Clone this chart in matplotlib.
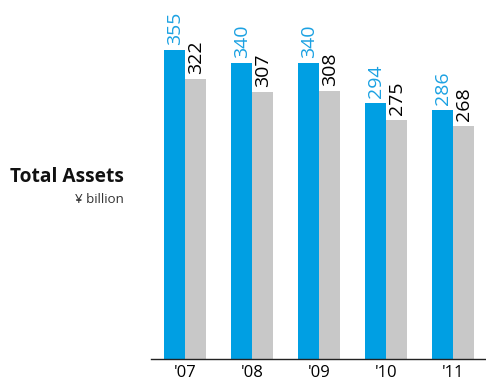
import numpy as np
import matplotlib.pyplot as plt

years = ["'07", "'08", "'09", "'10", "'11"]
assets_blue = [355, 340, 340, 294, 286]
assets_gray = [322, 307, 308, 275, 268]

BLUE = '#009FE3'
GRAY = '#C8C8C8'

plt.rcParams['font.family'] = ['Open Sans', 'DejaVu Sans']

fig = plt.figure(figsize=(4.86, 3.8), dpi=100)
ax = fig.add_axes([0.311, 0.0553, 0.689, 0.916])

x = np.arange(len(years))
w = 0.313
bars_b = ax.bar(x - w / 2, assets_blue, width=w, color=BLUE, linewidth=0)
bars_g = ax.bar(x + w / 2, assets_gray, width=w, color=GRAY, linewidth=0)

for bar, val in zip(bars_b, assets_blue):
    ax.annotate(str(val), (bar.get_x() + bar.get_width() / 2, val),
                xytext=(0, 3.5), textcoords='offset points',
                ha='center', va='bottom', rotation=90,
                fontsize=14, color='#1BA1E2')
for bar, val in zip(bars_g, assets_gray):
    ax.annotate(str(val), (bar.get_x() + bar.get_width() / 2, val),
                xytext=(0, 3.5), textcoords='offset points',
                ha='center', va='bottom', rotation=90,
                fontsize=14, color='black')

ax.set_xlim(-0.507, 4.49)
ax.set_ylim(0, 400)
ax.set_xticks(x)
ax.set_xticklabels(years, fontsize=12)
ax.tick_params(axis='x', length=0, pad=4)
ax.set_yticks([])
for side in ['top', 'right', 'left']:
    ax.spines[side].set_visible(False)
ax.spines['bottom'].set_linewidth(1.0)
ax.spines['bottom'].set_color('#222222')

fig.text(124 / 486, 1 - 182 / 380, 'Total Assets', ha='right', va='baseline',
         fontsize=13.8, fontweight='bold', color='#111111')
fig.text(124 / 486, 1 - 203 / 380, '¥ billion', ha='right', va='baseline',
         fontsize=9.6, color='#333333')

fig.savefig('out.png', dpi=100)
